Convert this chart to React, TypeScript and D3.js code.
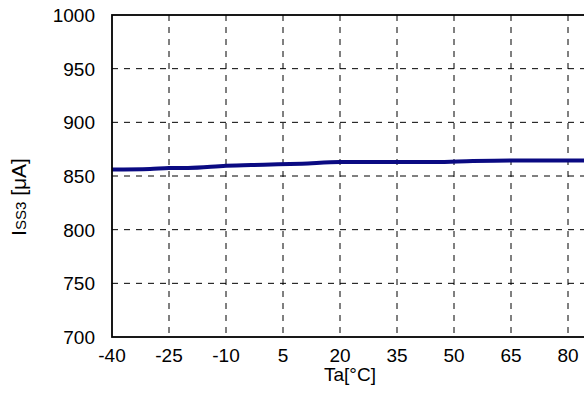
import React from "react";
import * as d3 from "d3";

const temps = [-40, -30, -25, -20, -10, 0, 10, 20, 30, 45, 55, 65, 80, 95];
const iss3 = [856, 856.5, 857.5, 857.5, 859.5, 860.5, 861.5, 863, 863, 863, 864, 864.5, 864.5, 864.5];
const xTicks = [-40, -25, -10, 5, 20, 35, 50, 65, 80];
const yTicks = [700, 750, 800, 850, 900, 950, 1000];

const W = 584;
const H = 410;
const left = 112;
const right = 625;
const top = 15;
const bottom = 337;
const font = "Arial, 'Liberation Sans', sans-serif";

export default function App() {
  const x = d3.scaleLinear().domain([-40, 95]).range([left, right]);
  const y = d3.scaleLinear().domain([700, 1000]).range([bottom, top]);
  const line = d3
    .line<number>()
    .x((_, i) => x(temps[i]))
    .y((d) => y(d))
    .curve(d3.curveMonotoneX);

  return (
    <div style={{ position: "absolute", left: 0, top: 0 }}>
      <svg width={W} height={H} style={{ display: "block", background: "#fff" }}>
        <defs>
          <clipPath id="plot">
            <rect x={left} y={top} width={right - left} height={bottom - top} />
          </clipPath>
        </defs>
        {yTicks.slice(1, -1).map((t) => (
          <line key={"h" + t} x1={left} x2={right} y1={y(t)} y2={y(t)} stroke="#000" strokeWidth={1} strokeDasharray="6,6" />
        ))}
        {xTicks.slice(1).map((t) => (
          <line key={"v" + t} x1={x(t)} x2={x(t)} y1={top} y2={bottom} stroke="#000" strokeWidth={1} strokeDasharray="6,6" />
        ))}
        <path d={line(iss3) || ""} fill="none" stroke="#0a0a82" strokeWidth={4} clipPath="url(#plot)" />
        <rect x={left} y={top} width={right - left} height={bottom - top} fill="none" stroke="#000" strokeWidth={1.8} />
        {yTicks.map((t) => (
          <text key={"yl" + t} x={95} y={y(t)} dy="0.36em" textAnchor="end" fontFamily={font} fontSize={19} fill="#000">
            {t}
          </text>
        ))}
        {xTicks.map((t) => (
          <text key={"xl" + t} x={x(t)} y={362} textAnchor="middle" fontFamily={font} fontSize={19} fill="#000">
            {t}
          </text>
        ))}
        <text x={350} y={381} textAnchor="middle" fontFamily={font} fontSize={19} fill="#000">
          Ta[°C]
        </text>
        <text transform={`translate(26,197) rotate(-90)`} textAnchor="middle" fontFamily={font} fontSize={21} fill="#000">
          I<tspan fontSize={15}>SS3</tspan> [μA]
        </text>
      </svg>
    </div>
  );
}
